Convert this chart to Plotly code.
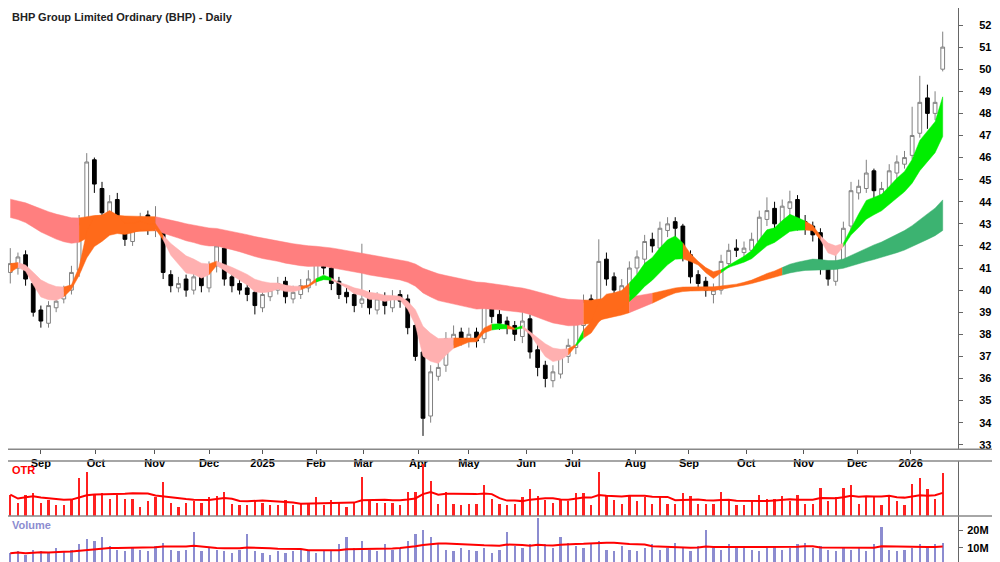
import numpy as np
import pandas as pd
import plotly.graph_objects as go

# ---------- data (3-trading-day candles, Aug 2024 - Jan 2026) ----------
opens = [40.8,41.0,41.6,40.3,39.1,38.5,39.2,39.6,40.0,40.9,
         43.2,45.9,44.6,43.3,44.1,43.1,42.2,43.1,43.4,42.7,
         42.6,40.7,40.1,40.5,40.0,40.7,40.1,41.1,41.9,40.6,
         40.3,40.1,39.9,39.2,39.7,40.0,40.4,39.6,39.8,40.1,
         40.4,41.3,41.0,40.4,39.9,39.8,39.4,39.8,39.1,39.7,
         39.2,39.8,39.6,38.4,37.2,34.3,36.1,36.6,37.7,38.1,
         37.7,38.1,37.8,39.6,38.9,38.6,38.4,37.9,38.7,37.3,
         36.6,35.9,36.2,37.0,37.4,38.4,39.6,39.2,41.4,40.6,
         39.9,40.1,41.0,41.4,42.3,41.9,42.7,43.1,42.9,41.6,
         40.7,40.4,39.8,40.0,41.2,41.9,41.7,41.8,42.2,43.2,
         43.7,42.9,43.7,44.1,43.1,42.9,42.6,41.2,40.4,41.2,
         42.9,44.4,44.6,45.4,44.3,44.5,45.3,45.7,46.1,47.1,
         48.7,48.0,50.0]
highs = [41.9,41.7,41.8,40.5,39.3,39.5,39.8,40.2,41.1,43.4,
         46.2,46.0,44.9,44.3,44.4,43.3,43.3,43.5,43.6,43.8,
         42.8,40.9,40.6,40.7,40.9,40.9,41.3,42.3,42.0,40.8,
         40.6,40.3,40.1,40.0,40.3,40.6,40.6,40.2,40.5,40.9,
         41.6,41.5,41.2,40.6,40.1,40.0,42.1,40.0,39.9,39.9,
         40.0,40.0,39.8,38.6,37.3,36.6,36.8,38.1,38.4,38.3,
         38.3,38.3,39.9,39.8,39.1,38.8,38.6,39.0,38.9,37.6,
         36.8,36.6,37.3,37.8,38.8,39.8,39.8,42.3,41.7,40.8,
         40.5,41.3,41.8,42.5,42.6,43.1,43.3,43.3,43.0,41.8,
         40.9,40.6,40.3,41.6,42.1,42.3,42.2,42.6,43.6,44.2,
         44.0,44.1,44.5,44.3,43.4,43.1,42.8,41.3,41.6,43.1,
         44.9,45.0,45.9,45.5,44.9,45.7,46.1,46.3,48.3,49.7,
         49.3,49.0,51.7]
lows = [40.3,40.7,40.2,38.8,38.3,38.3,39.0,39.4,39.8,40.6,
        42.9,44.4,43.2,43.0,42.8,42.0,42.0,42.8,42.5,42.4,
        40.5,39.9,39.9,39.7,39.8,39.9,39.9,40.8,40.2,39.9,
        39.8,39.5,38.9,39.0,39.5,39.8,39.4,39.4,39.6,39.9,
        40.2,40.7,40.0,39.6,39.4,39.0,39.2,38.9,38.9,38.9,
        39.0,39.2,38.0,36.8,33.4,34.0,35.9,36.3,37.5,37.5,
        37.4,37.4,37.6,38.5,38.2,38.0,37.7,37.6,36.9,36.1,
        35.6,35.6,36.0,36.7,37.1,38.1,39.0,39.0,40.2,39.6,
        39.6,39.8,40.7,41.1,41.7,41.6,42.4,42.4,41.3,40.3,
        40.0,39.7,39.4,39.8,41.0,41.5,41.4,41.5,42.0,42.9,
        42.7,42.6,43.4,42.7,42.5,42.2,40.7,40.2,40.2,41.0,
        42.6,44.1,44.4,44.1,44.1,44.3,45.0,45.5,45.9,46.9,
        47.3,47.7,49.9]
closes = [41.2,41.5,40.5,39.0,38.6,39.3,39.5,40.0,40.8,43.0,
          45.8,44.8,43.5,44.0,43.0,42.3,43.0,43.3,42.8,43.0,
          40.8,40.2,40.3,40.0,40.6,40.2,41.0,42.0,40.5,40.2,
          40.0,39.8,39.3,39.8,40.0,40.3,39.7,39.9,40.2,40.5,
          41.2,41.0,40.3,39.8,39.7,39.3,39.6,39.2,39.6,39.3,
          39.7,39.5,38.3,37.0,34.2,36.3,36.5,37.8,38.0,37.8,
          38.0,37.7,39.5,38.8,38.5,38.3,38.0,38.6,37.2,36.5,
          36.0,36.3,37.0,37.5,38.5,39.5,39.3,41.3,40.5,40.0,
          40.2,41.0,41.5,42.2,42.0,42.8,43.0,42.8,41.5,40.6,
          40.3,40.0,40.0,41.3,41.8,41.8,41.9,42.3,43.3,43.6,
          43.0,43.8,44.0,43.0,42.8,42.5,41.0,40.5,41.3,42.8,
          44.5,44.7,45.3,44.5,44.6,45.4,45.8,46.0,47.0,48.5,
          48.0,48.5,51.0]
volume_m = [7,8,6,9,8,7,10,8,9,12,
            15,14,16,11,9,8,10,9,8,11,
            13,9,8,9,19,8,10,9,8,7,
            9,18,8,7,6,8,7,8,9,8,
            7,9,8,12,16,10,14,9,8,12,
            9,10,14,18,20,16,12,9,8,10,
            9,8,10,7,9,19,11,10,12,27,
            12,10,16,13,11,10,12,14,9,8,
            11,9,8,10,12,9,10,13,10,8,
            11,20,10,9,12,10,11,9,8,10,
            11,9,10,12,13,10,11,9,8,10,
            9,10,8,12,22,9,8,9,10,12,
            11,12,13]
month_labels = ["Sep","Oct","Nov","Dec","2025","Feb","Mar","Apr","May","Jun",
                "Jul","Aug","Sep","Oct","Nov","Dec","2026"]
month_pos = [4.0,11.2,18.9,26.0,33.0,40.0,46.2,53.4,60.0,67.5,
             73.6,81.8,88.8,96.3,103.8,110.8,117.8]
# ribbon settings (EMA periods in 3-day bars) and starting levels
short_periods = [5,6,7,8,10,12]
short_seed = [40.6,40.7,40.8,40.9,41.0,41.2]
long_periods = [38,44,50,56,63,72]
long_seed = [43.4,43.55,43.7,43.85,44.0,44.2]

n = len(closes)
idx = np.arange(n)

def emas(periods, seeds):
    out = []
    for p, s in zip(periods, seeds):
        a = 2.0 / (p + 1.0)
        v = s; arr = []
        for c in closes:
            v = v + a * (c - v); arr.append(v)
        out.append(np.array(arr))
    return np.array(out)

S = emas(short_periods, short_seed)
L = emas(long_periods, long_seed)

def state(E):
    st = []
    for i in range(n):
        col = E[:, i]
        if np.all(np.diff(col) < 0): st.append("up")
        elif np.all(np.diff(col) > 0): st.append("down")
        else: st.append("mix")
    return st

s_state = state(S); l_state = state(L)
s_lo, s_hi = S.min(0), S.max(0)
l_lo, l_hi = L.min(0), L.max(0)
overlap = (s_lo < l_hi) & (s_hi > l_lo)

s_col = []; l_col = []
for i in range(n):
    if overlap[i]:
        s_col.append("#ff6a1a"); l_col.append("#ff6a1a")
    else:
        s_col.append({"up": "#00ee00", "down": "#ffb0b0", "mix": "#ff6a1a"}[s_state[i]])
        l_col.append({"up": "#3cb371", "down": "#ff7f7f", "mix": "#ff6a1a"}[l_state[i]])

fig = go.Figure()

def ribbon(lo, hi, cols):
    i = 0
    while i < n - 1:
        c = cols[i + 1]; j = i + 1
        while j < n - 1 and cols[j + 1] == c:
            j += 1
        xs = list(idx[i:j + 1]) + list(idx[i:j + 1][::-1])
        ys = list(hi[i:j + 1]) + list(lo[i:j + 1][::-1])
        fig.add_trace(go.Scatter(x=xs, y=ys, fill="toself", fillcolor=c, mode="lines",
                                 line=dict(width=0.5, color=c), hoverinfo="skip",
                                 showlegend=False, xaxis="x", yaxis="y"))
        i = j

ribbon(l_lo, l_hi, l_col)
ribbon(s_lo, s_hi, s_col)

fig.add_trace(go.Candlestick(x=idx, open=opens, high=highs, low=lows, close=closes,
    increasing=dict(fillcolor="white", line=dict(color="#808080", width=1)),
    decreasing=dict(fillcolor="black", line=dict(color="black", width=1)),
    whiskerwidth=0, showlegend=False, xaxis="x", yaxis="y"))

prev = np.array([closes[0]] + closes[:-1])
tr = np.maximum(np.array(highs), prev) - np.minimum(np.array(lows), prev)
tr_avg = pd.Series(tr).rolling(10, min_periods=1).mean()
fig.add_trace(go.Bar(x=idx, y=tr, marker=dict(color="#ff2020", line=dict(width=0)),
                     width=0.3, showlegend=False, xaxis="x2", yaxis="y2"))
fig.add_trace(go.Scatter(x=idx, y=tr_avg, mode="lines", line=dict(color="#ff0000", width=2),
                         showlegend=False, xaxis="x2", yaxis="y2"))

vol = np.array(volume_m) * 1e6
vol_avg = pd.Series(vol).rolling(15, min_periods=1).mean()
fig.add_trace(go.Bar(x=idx, y=vol, marker=dict(color="#8c8cd0", line=dict(width=0)),
                     width=0.3, showlegend=False, xaxis="x3", yaxis="y3"))
fig.add_trace(go.Scatter(x=idx, y=vol_avg, mode="lines", line=dict(color="#ff0000", width=2),
                         showlegend=False, xaxis="x3", yaxis="y3"))

xr = [-0.3, n - 1 + 2.0]
bold = dict(family="Arial", size=11, color="black", weight="bold")
fig.update_layout(
    width=1000, height=562, margin=dict(l=0, r=0, t=0, b=0),
    paper_bgcolor="white", plot_bgcolor="white",
    xaxis=dict(domain=[0, 0.95], range=xr, tickvals=month_pos, ticktext=month_labels,
               ticks="outside", ticklen=4, tickcolor="#555", showgrid=False,
               rangeslider=dict(visible=False), tickfont=bold, anchor="y", zeroline=False),
    yaxis=dict(domain=[0.215, 1], range=[32.8, 52.77], side="right",
               tickvals=list(range(33, 53)), showgrid=False, showline=True, linecolor="#666",
               ticks="outside", ticklen=4, tickcolor="#666", tickfont=bold,
               ticklabelstandoff=14, anchor="x", zeroline=False),
    xaxis2=dict(domain=[0, 0.95], range=xr, showticklabels=False, showgrid=False,
                anchor="y2", zeroline=False),
    yaxis2=dict(domain=[0.096, 0.194], range=[0, max(tr) * 1.05], side="right",
                showticklabels=False, showgrid=False, showline=True, linecolor="#666",
                anchor="x2", zeroline=False),
    xaxis3=dict(domain=[0, 0.95], range=xr, showticklabels=False, showgrid=False,
                anchor="y3", zeroline=False),
    yaxis3=dict(domain=[0, 0.096], range=[-2.4e6, 28e6], side="right",
                tickvals=[1e7, 2e7], ticktext=["10M", "20M"], showgrid=False, showline=True,
                linecolor="#666", ticks="outside", ticklen=4, tickcolor="#666",
                tickfont=bold, ticklabelstandoff=2, anchor="x3", zeroline=False),
    bargap=0,
    font=dict(family="Arial"),
)
for yp in [0.215, 0.194, 0.096]:
    fig.add_shape(type="line", xref="paper", yref="paper", x0=0, x1=1, y0=yp, y1=yp,
                  line=dict(color="#888", width=1.5))
fig.add_annotation(text="BHP Group Limited Ordinary (BHP) - Daily", xref="paper", yref="paper",
                   x=0.002, y=0.998, xanchor="left", yanchor="top", showarrow=False,
                   font=dict(family="Arial", size=11, color="#222", weight="bold"))
fig.add_annotation(text="OTR", xref="paper", yref="paper", x=0.002, y=0.192,
                   xanchor="left", yanchor="top", showarrow=False,
                   font=dict(family="Arial", size=11, color="#ff0000", weight="bold"))
fig.add_annotation(text="Volume", xref="paper", yref="paper", x=0.002, y=0.094,
                   xanchor="left", yanchor="top", showarrow=False,
                   font=dict(family="Arial", size=11, color="#8c8cd0", weight="bold"))
fig.write_html("out.html")
